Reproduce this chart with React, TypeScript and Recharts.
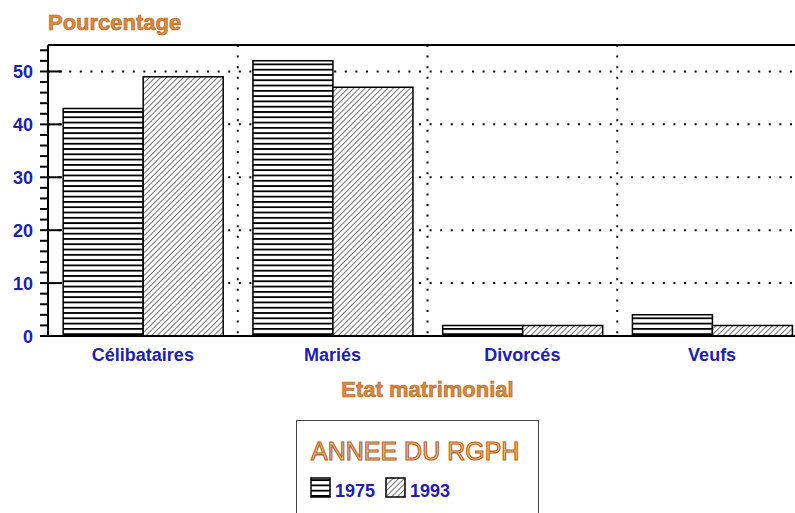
import React from 'react';
import { BarChart, Bar, XAxis, YAxis, CartesianGrid, Legend, ReferenceLine } from 'recharts';

const categories = ['Célibataires', 'Mariés', 'Divorcés', 'Veufs'];
const pct1975 = [43, 52, 2, 4];
const pct1993 = [49, 47, 2, 2];
const yTicks = [0, 2, 4, 6, 8, 10, 12, 14, 16, 18, 20, 22, 24, 26, 28, 30, 32, 34, 36, 38, 40, 42, 44, 46, 48, 50, 52, 54];
const gridValues = [10, 20, 30, 40, 50];
const Y_MAX = 55;

const data = categories.map((c, i) => ({ etat: c, y1975: pct1975[i], y1993: pct1993[i] }));

const FONT = '"Liberation Sans", Arial, sans-serif';
const BLUE = '#2020b0';
const ORANGE_FILL = '#d68a44';
const ORANGE_LINE = '#b45e0e';

const YTick = (props: any) => {
    const { x, y, payload } = props;
    const major = payload.value % 10 === 0;
    return (
        <g>
            <line x1={x - 8} x2={major ? x + 14 : x} y1={y} y2={y} stroke="#000" strokeWidth={2} />
            {major && (
                <text x={x - 15} y={y + 7} textAnchor="end" fontFamily={FONT} fontWeight="bold" fontSize={18} fill={BLUE}>
                    {payload.value}
                </text>
            )}
        </g>
    );
};

const XTick = (props: any) => {
    const { x, y, payload } = props;
    return (
        <text x={x} y={y + 25} textAnchor="middle" fontFamily={FONT} fontWeight="bold" fontSize={18} fill={BLUE}>
            {payload.value}
        </text>
    );
};

const xLabel = (props: any) => {
    const vb = props.viewBox;
    return (
        <text x={vb.x + vb.width / 2} y={vb.y + 61} textAnchor="middle" fontFamily={FONT} fontWeight="bold" fontSize={22}
            fill={ORANGE_FILL} stroke={ORANGE_LINE} strokeWidth={0.6}>
            Etat matrimonial
        </text>
    );
};

const yLabel = (props: any) => {
    const vb = props.viewBox;
    return (
        <text x={vb.x + vb.width} y={vb.y - 15} textAnchor="start" fontFamily={FONT} fontWeight="bold" fontSize={22}
            fill={ORANGE_FILL} stroke={ORANGE_LINE} strokeWidth={0.6}>
            Pourcentage
        </text>
    );
};

const renderLegend = () => (
    <div style={{ width: 243, height: 100, border: '1px solid #444', boxSizing: 'border-box', background: '#fff' }}>
        <svg width={241} height={98}>
            <text x={14} y={39} fontFamily={FONT} fontSize={25} fill="#efc69c" stroke="#b8600f" strokeWidth={1.1}>
                ANNEE DU RGPH
            </text>
            <rect x={14} y={57} width={19} height={19} fill="url(#stripes75)" stroke="#000" strokeWidth={1.5} />
            <text x={38} y={76} fontFamily={FONT} fontWeight="bold" fontSize={18} fill={BLUE}>1975</text>
            <rect x={89} y={57} width={19} height={19} fill="url(#hatch93)" stroke="#000" strokeWidth={1.5} />
            <text x={113} y={76} fontFamily={FONT} fontWeight="bold" fontSize={18} fill={BLUE}>1993</text>
        </svg>
    </div>
);

export default function App() {
    return (
        <div style={{ position: 'absolute', left: 0, top: 0, width: 795, height: 513, overflow: 'hidden', background: '#fff' }}>
            <BarChart
                width={811}
                height={513}
                data={data}
                margin={{ top: 45, right: 4, bottom: 107, left: 0 }}
                barCategoryGap="8%"
                barGap={0}
            >
                <defs>
                    <pattern id="stripes75" patternUnits="userSpaceOnUse" width={10} height={5.29}>
                        <rect x={0} y={0} width={10} height={5.29} fill="#fff" />
                        <rect x={0} y={0} width={10} height={1.8} fill="#000" />
                    </pattern>
                    <pattern id="hatch93" patternUnits="userSpaceOnUse" width={4} height={4} patternTransform="rotate(45)">
                        <rect x={0} y={0} width={4} height={4} fill="#fff" />
                        <line x1={0} y1={0} x2={0} y2={4} stroke="#000" strokeWidth={1.1} />
                    </pattern>
                </defs>
                <CartesianGrid
                    stroke="#000"
                    strokeWidth={2}
                    strokeDasharray="2 8.6"
                    horizontalCoordinatesGenerator={({ offset }: any) =>
                        gridValues.map(v => offset.top + offset.height * (1 - v / Y_MAX))
                    }
                    verticalCoordinatesGenerator={({ offset }: any) =>
                        [1, 2, 3].map(i => offset.left + (i * offset.width) / categories.length)
                    }
                />
                <XAxis
                    dataKey="etat"
                    interval={0}
                    tickLine={false}
                    tickSize={0}
                    tickMargin={0}
                    axisLine={{ stroke: '#000', strokeWidth: 2 }}
                    tick={<XTick />}
                    height={70}
                    label={xLabel}
                />
                <YAxis
                    domain={[0, Y_MAX]}
                    ticks={yTicks}
                    interval={0}
                    width={48}
                    tickLine={false}
                    tickSize={0}
                    tickMargin={0}
                    axisLine={{ stroke: '#000', strokeWidth: 2 }}
                    tick={<YTick />}
                    label={yLabel}
                />
                <ReferenceLine y={Y_MAX} stroke="#000" strokeWidth={2} />
                <Legend
                    layout="horizontal"
                    verticalAlign="middle"
                    align="center"
                    wrapperStyle={{ position: 'absolute', left: 296, top: 420, width: 243, height: 100 }}
                    content={renderLegend}
                />
                <Bar dataKey="y1975" name="1975" fill="url(#stripes75)" stroke="#000" strokeWidth={1.5} isAnimationActive={false} />
                <Bar dataKey="y1993" name="1993" fill="url(#hatch93)" stroke="#000" strokeWidth={1.5} isAnimationActive={false} />
            </BarChart>
        </div>
    );
}
